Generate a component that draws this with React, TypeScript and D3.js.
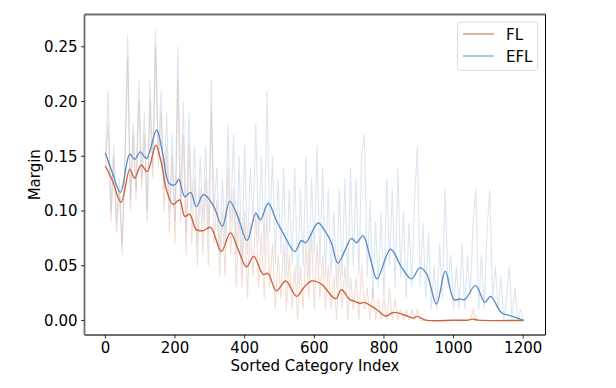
import React from 'react';
import * as d3 from 'd3';

// raw margins, sampled every 8 categories (0..1200)
const rawIndex = d3.range(0, 1201, 8);

const flRaw = [
  0.14, 0.18, 0.09, 0.15, 0.08, 0.12, 0.06, 0.14, 0.24, 0.10,
  0.17, 0.11, 0.20, 0.12, 0.17, 0.09, 0.20, 0.13, 0.25, 0.14,
  0.19, 0.10, 0.16, 0.08, 0.15, 0.07, 0.22, 0.09, 0.17, 0.06,
  0.16, 0.07, 0.13, 0.05, 0.12, 0.06, 0.13, 0.05, 0.19, 0.07,
  0.11, 0.04, 0.10, 0.04, 0.14, 0.06, 0.12, 0.03, 0.10, 0.03,
  0.10, 0.02, 0.09, 0.04, 0.10, 0.03, 0.08, 0.02, 0.10, 0.03,
  0.07, 0.01, 0.06, 0.02, 0.07, 0.01, 0.06, 0.01, 0.05, 0.00,
  0.05, 0.01, 0.07, 0.02, 0.08, 0.01, 0.07, 0.02, 0.06, 0.01,
  0.05, 0.01, 0.04, 0.00, 0.06, 0.01, 0.05, 0.00, 0.04, 0.01,
  0.04, 0.00, 0.05, 0.01, 0.03, 0.00, 0.03, 0.00, 0.02, 0.00,
  0.02, 0.00, 0.03, 0.00, 0.02, 0.00, 0.01, 0.00, 0.01, 0.00,
  0.01, 0.00, 0.01, 0.00, 0.00, 0.00, 0.00, 0.00, 0.00, 0.00,
  0.00, 0.00, 0.00, 0.00, 0.00, 0.00, 0.00, 0.00, 0.00, 0.00,
  0.00, 0.00, 0.01, 0.00, 0.00, 0.00, 0.00, 0.00, 0.00, 0.00,
  0.00, 0.00, 0.00, 0.00, 0.00, 0.00, 0.00, 0.00, 0.00, 0.00,
  0.00,
];

const eflRaw = [
  0.15, 0.21, 0.10, 0.16, 0.09, 0.13, 0.07, 0.15, 0.26, 0.11,
  0.18, 0.12, 0.22, 0.13, 0.19, 0.10, 0.22, 0.14, 0.265, 0.15,
  0.21, 0.12, 0.19, 0.10, 0.17, 0.09, 0.25, 0.11, 0.20, 0.08,
  0.19, 0.10, 0.16, 0.07, 0.15, 0.09, 0.16, 0.08, 0.22, 0.10,
  0.14, 0.06, 0.13, 0.07, 0.18, 0.09, 0.17, 0.06, 0.15, 0.05,
  0.16, 0.06, 0.14, 0.09, 0.18, 0.07, 0.15, 0.06, 0.21, 0.08,
  0.15, 0.05, 0.13, 0.06, 0.14, 0.04, 0.12, 0.05, 0.14, 0.03,
  0.12, 0.05, 0.15, 0.04, 0.13, 0.06, 0.16, 0.05, 0.14, 0.04,
  0.12, 0.04, 0.10, 0.03, 0.12, 0.04, 0.13, 0.03, 0.14, 0.05,
  0.13, 0.04, 0.15, 0.17, 0.04, 0.11, 0.02, 0.09, 0.03, 0.10,
  0.02, 0.13, 0.05, 0.12, 0.03, 0.14, 0.04, 0.10, 0.02, 0.09,
  0.03, 0.11, 0.16, 0.03, 0.09, 0.02, 0.08, 0.01, 0.05, 0.01,
  0.07, 0.02, 0.12, 0.03, 0.06, 0.01, 0.05, 0.01, 0.07, 0.01,
  0.06, 0.02, 0.09, 0.12, 0.01, 0.06, 0.01, 0.08, 0.12, 0.02,
  0.05, 0.01, 0.04, 0.00, 0.02, 0.05, 0.00, 0.03, 0.00, 0.01,
  0.00,
];

// smoothed curves (read at turning points)
const flSmoothIdx = [0, 20, 45, 70, 84, 103, 120, 145, 160, 175, 194, 213, 228, 242, 261, 280, 302, 333, 359, 380, 405, 426, 453, 467, 491, 518, 549, 570, 592, 621, 654, 663, 678, 702, 716, 731, 742, 779, 805, 827, 865, 884, 895, 920, 1000, 1040, 1055, 1070, 1200];
const flSmoothVal = [0.141, 0.128, 0.108, 0.138, 0.130, 0.142, 0.136, 0.160, 0.145, 0.120, 0.106, 0.110, 0.095, 0.097, 0.083, 0.082, 0.085, 0.063, 0.080, 0.066, 0.049, 0.0585, 0.042, 0.043, 0.027, 0.036, 0.022, 0.030, 0.036, 0.033, 0.021, 0.020, 0.028, 0.019, 0.0175, 0.0155, 0.0165, 0.010, 0.004, 0.0073, 0.0043, 0.0022, 0.0037, 0.0003, 0.0002, 0.0003, 0.0012, 0.0003, 0.0];

const eflSmoothIdx = [0, 20, 43, 70, 84, 100, 118, 147, 165, 183, 200, 211, 228, 245, 261, 282, 310, 336, 357, 380, 407, 432, 445, 468, 490, 510, 544, 563, 575, 611, 630, 649, 668, 707, 721, 740, 760, 780, 819, 850, 879, 903, 922, 951, 976, 1001, 1018, 1032, 1063, 1090, 1106, 1138, 1167, 1202];
const eflSmoothVal = [0.153, 0.135, 0.117, 0.152, 0.147, 0.154, 0.148, 0.174, 0.152, 0.125, 0.124, 0.129, 0.113, 0.117, 0.104, 0.115, 0.105, 0.086, 0.109, 0.095, 0.073, 0.098, 0.092, 0.107, 0.092, 0.080, 0.063, 0.073, 0.071, 0.089, 0.082, 0.071, 0.0525, 0.075, 0.071, 0.0775, 0.058, 0.038, 0.065, 0.049, 0.038, 0.048, 0.043, 0.015, 0.045, 0.019, 0.0196, 0.019, 0.032, 0.0165, 0.022, 0.007, 0.004, 0.0];

const xTicks = [0, 200, 400, 600, 800, 1000, 1200];
const yTicks = [0.0, 0.05, 0.10, 0.15, 0.20, 0.25];

const FL_COLOR = '#cc6640';
const EFL_COLOR = '#5e8fc4';
const FONT = 'DejaVu Sans, sans-serif';

const W = 616, H = 388;
const L = 84.5, R = 545.5, T = 14.5, B = 335;

export default function App() {
  const x = d3.scaleLinear().domain([-60, 1264]).range([L, R]);
  const y = d3.scaleLinear().domain([-0.0133, 0.2795]).range([B, T]);

  const rawLine = d3.line<[number, number]>().x(d => x(d[0])).y(d => y(d[1]));
  const smoothLine = d3.line<[number, number]>().x(d => x(d[0])).y(d => y(d[1])).curve(d3.curveCatmullRom.alpha(0.5));

  const flRawPts = rawIndex.map((i, k) => [i, flRaw[k]] as [number, number]);
  const eflRawPts = rawIndex.map((i, k) => [i, eflRaw[k]] as [number, number]);
  const flSmooth = flSmoothIdx.map((i, k) => [i, flSmoothVal[k]] as [number, number]);
  const eflSmooth = eflSmoothIdx.map((i, k) => [i, eflSmoothVal[k]] as [number, number]);

  return (
    <svg width={W} height={H} style={{ position: 'absolute', left: 0, top: 0, background: '#fff' }} fontFamily={FONT}>
      <defs>
        <clipPath id="plot">
          <rect x={L} y={T} width={R - L} height={B - T} />
        </clipPath>
      </defs>
      <g clipPath="url(#plot)">
        <path d={rawLine(flRawPts) || ''} fill="none" stroke={FL_COLOR} strokeOpacity={0.22} strokeWidth={1.1} />
        <path d={rawLine(eflRawPts) || ''} fill="none" stroke={EFL_COLOR} strokeOpacity={0.22} strokeWidth={1.1} />
        <path d={smoothLine(flSmooth) || ''} fill="none" stroke={FL_COLOR} strokeWidth={1.4} />
        <path d={smoothLine(eflSmooth) || ''} fill="none" stroke={EFL_COLOR} strokeWidth={1.4} />
      </g>

      {/* spines */}
      <line x1={L} x2={R} y1={T} y2={T} stroke="#6e6e6e" strokeWidth={1.8} />
      <line x1={L} x2={L} y1={T} y2={B} stroke="#6e6e6e" strokeWidth={1.8} />
      <line x1={L} x2={R} y1={B} y2={B} stroke="#6e6e6e" strokeWidth={1.8} />
      <line x1={R} x2={R} y1={T} y2={B} stroke="#000" strokeWidth={1} />

      {/* x axis */}
      {xTicks.map(t => (
        <g key={t} transform={`translate(${x(t)},${B})`}>
          <line y2={3.5} stroke="#000" strokeWidth={0.8} />
          <text y={18} textAnchor="middle" fontSize={15} fill="#000">{t}</text>
        </g>
      ))}
      <text x={(L + R) / 2} y={370.5} textAnchor="middle" fontSize={15} fill="#000">Sorted Category Index</text>

      {/* y axis */}
      {yTicks.map(t => (
        <g key={t} transform={`translate(${L},${y(t)})`}>
          <line x2={-3.5} stroke="#000" strokeWidth={0.8} />
          <text x={-7} dy="0.36em" textAnchor="end" fontSize={15} fill="#000">{t.toFixed(2)}</text>
        </g>
      ))}
      <text transform={`translate(40,${(T + B) / 2}) rotate(-90)`} textAnchor="middle" fontSize={15} fill="#000">Margin</text>

      {/* legend */}
      <rect x={457.5} y={22} width={80} height={48.5} rx={3} fill="#fff" fillOpacity={0.8} stroke="#dcdcdc" strokeWidth={1} />
      <line x1={463} x2={494} y1={34} y2={34} stroke={FL_COLOR} strokeWidth={1.4} strokeOpacity={0.7} />
      <text x={506} y={39.5} fontSize={15} fill="#000">FL</text>
      <line x1={463} x2={494} y1={56} y2={56} stroke={EFL_COLOR} strokeWidth={1.4} strokeOpacity={0.7} />
      <text x={506} y={61.5} fontSize={15} fill="#000">EFL</text>
    </svg>
  );
}
